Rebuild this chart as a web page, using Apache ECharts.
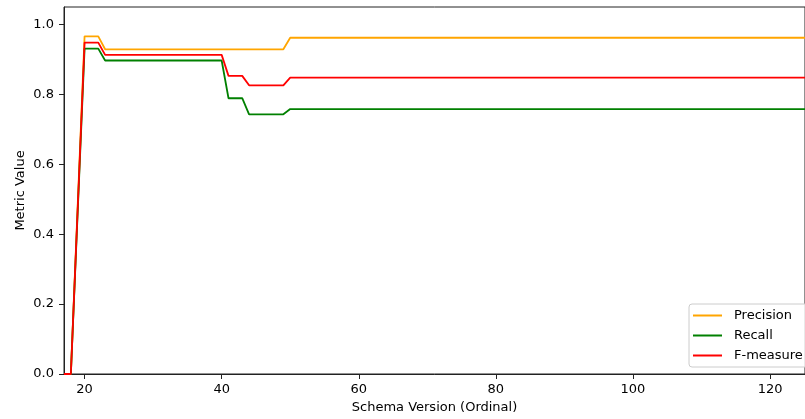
<!DOCTYPE html>
<html>
<head>
<meta charset="utf-8">
<script src="https://cdn.jsdelivr.net/npm/echarts@6/dist/echarts.min.js"></script>
<style>
  html, body { margin: 0; padding: 0; background: #fff; }
  #chart { width: 805px; height: 419px; }
</style>
</head>
<body>
<div id="chart"></div>
<script>
// Schema versions where at least one metric changes (lines are flat in between)
const versions  = [17, 18, 20, 22, 23, 40, 41, 43, 44, 49, 50, 130];
const precision = [0, 0, 0.966, 0.966, 0.929, 0.929, 0.929, 0.929, 0.929, 0.929, 0.962, 0.962];
const recall    = [0, 0, 0.931, 0.931, 0.897, 0.897, 0.789, 0.789, 0.743, 0.743, 0.758, 0.758];
const fmeasure  = [0, 0, 0.948, 0.948, 0.913, 0.913, 0.853, 0.853, 0.826, 0.826, 0.848, 0.848];

const xTicks = [20, 40, 60, 80, 100, 120];
const yTicks = [0, 0.2, 0.4, 0.6, 0.8, 1.0];

const FONT = 'DejaVu Sans';

function pairs(vals) {
  return versions.map((v, i) => [v, vals[i]]);
}

function lineSeries(name, color, vals) {
  return {
    name: name,
    type: 'line',
    data: pairs(vals),
    showSymbol: false,
    symbol: 'none',
    clip: true,
    lineStyle: { color: color, width: 1.8 },
    itemStyle: { color: color },
    animation: false
  };
}

const chart = echarts.init(document.getElementById('chart'), null, { renderer: 'canvas' });
chart.setOption({
  animation: false,
  backgroundColor: '#fff',
  textStyle: { fontFamily: FONT },
  grid: {
    left: 64, top: 7, bottom: 44, right: -6,
    containLabel: false,
    show: true, borderColor: '#222', borderWidth: 1, backgroundColor: 'transparent'
  },
  xAxis: {
    type: 'value',
    min: 17, max: 125.1,
    name: 'Schema Version (Ordinal)',
    nameLocation: 'middle',
    nameGap: 27,
    nameMoveOverlap: false,
    nameTextStyle: { fontFamily: FONT, fontSize: 13, color: '#000' },
    splitLine: { show: false },
    axisLine: { show: true, lineStyle: { color: '#222', width: 1 } },
    axisTick: { show: true, customValues: xTicks, length: 5, lineStyle: { color: '#222' } },
    axisLabel: {
      customValues: xTicks, margin: 9,
      fontFamily: FONT, fontSize: 13, color: '#000'
    }
  },
  yAxis: {
    type: 'value',
    min: 0, max: 1.05,
    name: 'Metric Value',
    nameLocation: 'middle',
    nameGap: 37,
    nameMoveOverlap: false,
    nameTextStyle: { fontFamily: FONT, fontSize: 13, color: '#000' },
    splitLine: { show: false },
    axisLine: { show: true, lineStyle: { color: '#222', width: 1 } },
    axisTick: { show: true, customValues: yTicks, length: 5, lineStyle: { color: '#222' } },
    axisLabel: {
      customValues: yTicks, margin: 10,
      fontFamily: FONT, fontSize: 13, color: '#000',
      formatter: v => v.toFixed(1)
    }
  },
  legend: {
    orient: 'vertical',
    left: 689, top: 304,
    padding: [5, 8, 5, 4],
    itemGap: 7,
    itemWidth: 29, itemHeight: 2,
    icon: 'rect',
    borderColor: '#ccc', borderWidth: 1, borderRadius: 3,
    backgroundColor: 'rgba(255,255,255,0.8)',
    textStyle: { fontFamily: FONT, fontSize: 13, color: '#000', padding: [0, 0, 0, 7] },
    data: ['Precision', 'Recall', 'F-measure']
  },
  series: [
    lineSeries('Precision', '#FFA500', precision),
    lineSeries('Recall', '#008000', recall),
    lineSeries('F-measure', '#FF0000', fmeasure)
  ]
});
</script>
</body>
</html>
